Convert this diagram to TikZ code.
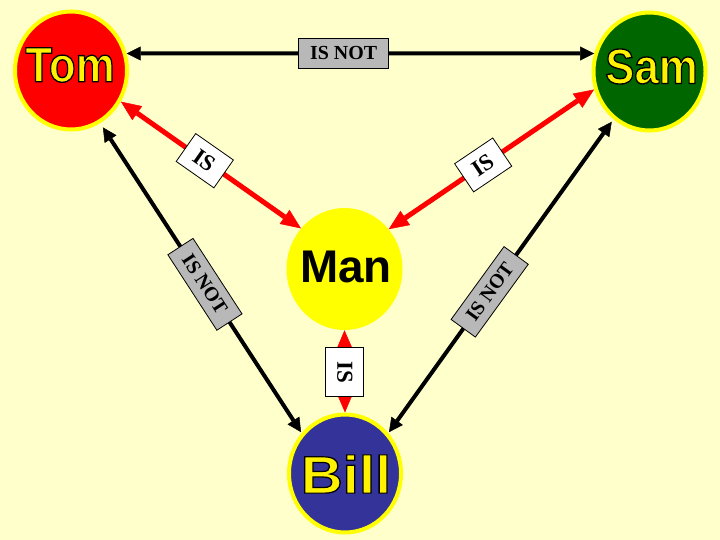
\documentclass[tikz,border=0pt]{standalone}
\usepackage{fontspec}
\usepackage{graphicx}
\setmainfont{Liberation Serif}
\newfontfamily\arialfam{Liberation Sans}
\usetikzlibrary{arrows.meta,shapes.geometric}
\definecolor{bgc}{HTML}{FFFFCC}
\definecolor{tomred}{HTML}{FF0000}
\definecolor{samgreen}{HTML}{006600}
\definecolor{billblue}{HTML}{333399}
\definecolor{manyellow}{HTML}{FFFF00}
\definecolor{ringyellow}{HTML}{FFFF00}
\definecolor{boxgray}{HTML}{B8B8B8}
\definecolor{arrred}{HTML}{FF0000}
\newcommand\outl[1]{\special{pdf:literal direct 0 0 0 RG 1.2 w 2 Tr}#1\special{pdf:literal direct 0 Tr}}
\begin{document}
\begin{tikzpicture}[x=1bp,y=-1bp,
  person/.style={ellipse, minimum width=112bp, minimum height=118bp, draw=ringyellow, line width=4bp, inner sep=0pt},
  manshape/.style={ellipse, minimum width=116bp, minimum height=122bp, fill=manyellow, inner sep=0pt},
  nametext/.style={inner sep=0pt, text=yellow, font={\arialfam\bfseries\fontsize{44}{50}\selectfont}},
  blk/.style={line width=4bp, black, {Triangle[length=14bp,width=14bp,line width=0.5bp]}-{Triangle[length=14bp,width=14bp,line width=0.5bp]}},
  redarr/.style={line width=5bp, arrred, {Triangle[length=20bp,width=17bp,line width=0.5bp]}-{Triangle[length=20bp,width=17bp,line width=0.5bp]}},
  isbox/.style={draw=black, line width=0.8bp, fill=white, text=black, font={\bfseries\fontsize{23}{26}\selectfont}, inner sep=0pt, minimum width=46bp, minimum height=34bp},
  notbox/.style={isbox, fill=boxgray, font={\bfseries\fontsize{20}{24}\selectfont}, minimum width=90bp, minimum height=30bp}
]
\fill[bgc] (0,0) rectangle (720,540);
\useasboundingbox (0,0) rectangle (720,540);

\node[person, fill=tomred] (tom) at (71,70.5) {};
\node[person, fill=samgreen] (sam) at (649.5,71.5) {};
\node[manshape] (man) at (344.5,269) {};
\node[person, fill=billblue] (bill) at (345,473.5) {};

\node[nametext] (tomlabel) at (70,65) {\scalebox{1}[1.13]{\outl{Tom}}};
\node[nametext] (samlabel) at (651.5,66.5) {\scalebox{1}[1.13]{\outl{Sam}}};
\node[nametext, text=black, font={\arialfam\bfseries\fontsize{46}{52}\selectfont}] (manlabel) at (346,266.5) {Man};
\node[nametext, font={\arialfam\bfseries\fontsize{53}{60}\selectfont}] (billlabel) at (346,474) {\scalebox{1.1}[1]{\outl{Bill}}};

% connectors
\draw[blk] (tom.17) -- (sam.162) node[notbox, pos=0.464] (lab1) {IS NOT};
\draw[redarr] (tom.-32) -- (man.137) node[isbox, pos=0.466, rotate=-35] (lab2) {IS};
\draw[redarr] (sam.-162) -- (man.42) node[isbox, pos=0.54, rotate=34] (lab3) {IS};
\draw[blk, shorten <=5bp, shorten >=1bp] (tom.-61) -- (bill.137) node[notbox, pos=0.52, rotate=-57] (lab4) {IS NOT};
\draw[blk, shorten <=3bp, shorten >=1bp] (sam.-127) -- (bill.43) node[notbox, pos=0.55, rotate=54] (lab5) {IS NOT};
\draw[redarr] (man.-90) -- (bill.90) node[isbox, pos=0.51, rotate=-90, minimum width=49bp, minimum height=38bp] (lab6) {IS};
\end{tikzpicture}
\end{document}
